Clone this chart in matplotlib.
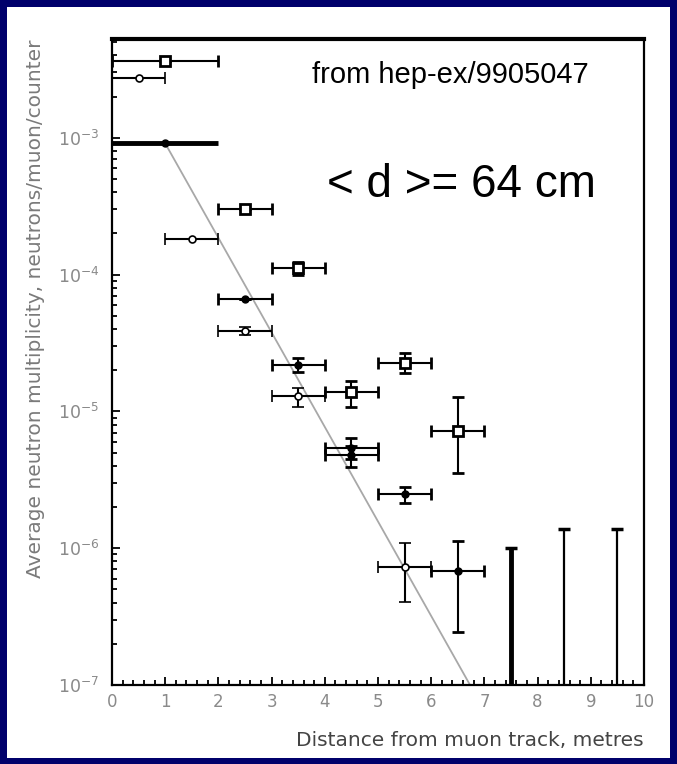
import numpy as np
import matplotlib
matplotlib.use("Agg")
from matplotlib import pyplot as plt
from matplotlib.patches import Rectangle
from matplotlib.ticker import LogLocator, MultipleLocator, NullFormatter

# open squares
sq_x = [1.0, 2.5, 3.5, 4.5, 5.5, 6.5]
sq_xlo = [0.0, 2.0, 3.0, 4.0, 5.0, 6.0]
sq_xhi = [2.0, 3.0, 4.0, 5.0, 6.0, 7.0]
sq_y = [3.64e-3, 3.02e-4, 1.11e-4, 1.39e-5, 2.25e-5, 7.2e-6]
sq_ylo = [3.64e-3, 3.02e-4, 9.9e-5, 1.08e-5, 1.90e-5, 3.56e-6]
sq_yhi = [3.64e-3, 3.02e-4, 1.24e-4, 1.68e-5, 2.69e-5, 1.28e-5]

# open circles
oc_x = [0.5, 1.5, 2.5, 3.5, 5.5]
oc_xlo = [0.0, 1.0, 2.0, 3.0, 5.0]
oc_xhi = [1.0, 2.0, 3.0, 4.0, 6.0]
oc_y = [2.72e-3, 1.81e-4, 3.89e-5, 1.30e-5, 7.33e-7]
oc_ylo = [2.72e-3, 1.81e-4, 3.62e-5, 1.08e-5, 4.06e-7]
oc_yhi = [2.72e-3, 1.81e-4, 4.16e-5, 1.49e-5, 1.09e-6]

# filled points
fd_x = [2.5, 3.5, 4.5, 4.5, 5.5, 6.5]
fd_xlo = [2.0, 3.0, 4.0, 4.0, 5.0, 6.0]
fd_xhi = [3.0, 4.0, 5.0, 5.0, 6.0, 7.0]
fd_y = [6.59e-5, 2.18e-5, 5.37e-6, 4.80e-6, 2.48e-6, 6.81e-7]
fd_ylo = [6.59e-5, 1.95e-5, 4.5e-6, 3.94e-6, 2.15e-6, 2.45e-7]
fd_yhi = [6.59e-5, 2.44e-5, 6.36e-6, 5.6e-6, 2.82e-6, 1.12e-6]

# wide first bin (0-2 m)
wide_x, wide_xlo, wide_xhi, wide_y = 1.0, 0.0, 2.0, 9.1e-4

# upper limits
lim_x = [7.5, 8.5, 9.5]
lim_y = [1.0e-6, 1.38e-6, 1.38e-6]

# exponential fit, <d> = 64 cm
fit_x = [1.0, 6.73]
fit_y = [9.1e-4, 1.0e-7]

ymin, ymax = 1e-7, 5.27e-3

fig = plt.figure(figsize=(6.77, 7.64), dpi=100, facecolor="#00006b")
fig.patches.append(Rectangle((7 / 677, 6 / 764), 663 / 677, 751 / 764,
                             transform=fig.transFigure, facecolor="white",
                             edgecolor="none", zorder=-1))
ax = fig.add_axes([0.16544, 0.10340, 0.78582, 0.84555])
ax.set_yscale("log")
ax.set_xlim(0, 10)
ax.set_ylim(ymin, ymax)

ax.plot(fit_x, fit_y, color="#a8a8a8", lw=1.3, zorder=1)


def draw(x, xlo, xhi, y, ylo, yhi, **kw):
    x = np.array(x); y = np.array(y)
    xerr = [x - np.array(xlo), np.array(xhi) - x]
    yerr = [y - np.array(ylo), np.array(yhi) - y]
    ax.errorbar(x, y, xerr=xerr, yerr=yerr, color="black", ecolor="black",
                elinewidth=1.5, capsize=4, capthick=2, ls="none", zorder=3, **kw)


draw(sq_x, sq_xlo, sq_xhi, sq_y, sq_ylo, sq_yhi, marker="s", ms=7,
     mfc="white", mec="black", mew=2)
draw(oc_x, oc_xlo, oc_xhi, oc_y, oc_ylo, oc_yhi, marker="o", ms=5,
     mfc="white", mec="black", mew=1.2)
draw(fd_x, fd_xlo, fd_xhi, fd_y, fd_ylo, fd_yhi, marker="o", ms=5,
     mfc="black", mec="black")

ax.errorbar([wide_x], [wide_y], xerr=[[wide_x - wide_xlo], [wide_xhi - wide_x]],
            color="black", elinewidth=3.5, capsize=0, marker="o", ms=5,
            ls="none", zorder=3)

lws = [3.5, 1.6, 1.6]
for xv, yv, lw in zip(lim_x, lim_y, lws):
    ax.vlines(xv, ymin, yv, color="black", lw=lw, zorder=3)
    ax.plot([xv], [yv], marker="_", ms=8, mew=2.5, color="black", zorder=3)

# axes styling
for side in ["left", "right", "bottom"]:
    ax.spines[side].set_linewidth(1.6)
ax.spines["top"].set_linewidth(3)
ax.xaxis.set_major_locator(MultipleLocator(1))
ax.xaxis.set_minor_locator(MultipleLocator(0.2))
ax.yaxis.set_major_locator(LogLocator(base=10))
ax.yaxis.set_minor_locator(LogLocator(base=10, subs=np.arange(2, 10)))
ax.yaxis.set_minor_formatter(NullFormatter())
ax.tick_params(which="both", direction="in", top=False, right=False,
               color="black", width=1.3, labelcolor="#8a8a8a")
ax.tick_params(which="major", length=6)
ax.tick_params(which="minor", length=3.5)
ax.tick_params(axis="x", labelsize=12, pad=6)
ax.tick_params(axis="y", labelsize=12.5, pad=9)
ax.set_xticks(range(11))
ax.set_xticklabels([str(i) for i in range(11)])

ax.set_xlabel("Distance from muon track, metres", loc="right", fontsize=14.5,
              color="#444444", labelpad=14)
ax.set_ylabel("Average neutron multiplicity, neutrons/muon/counter", loc="top",
              fontsize=14.5, color="#7a7a7a", labelpad=9)

ax.text(0.376, 0.932, "from hep-ex/9905047", transform=ax.transAxes,
        fontsize=21, family="Liberation Sans", va="baseline", ha="left")
ax.text(0.404, 0.756, "< d >= 64 cm", transform=ax.transAxes,
        fontsize=33, family="Liberation Sans", va="baseline", ha="left")

fig.savefig("out.png", dpi=100)
